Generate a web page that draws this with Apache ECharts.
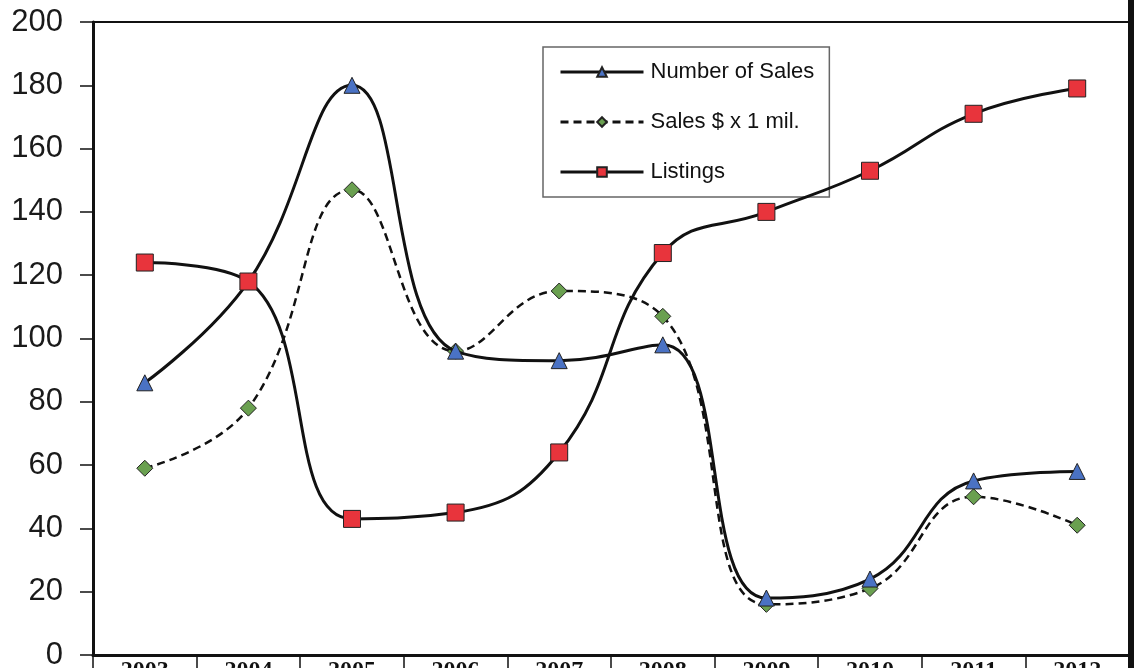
<!DOCTYPE html>
<html>
<head>
<meta charset="utf-8">
<script src="https://cdn.jsdelivr.net/npm/echarts@6/dist/echarts.min.js"></script>
<style>html,body{margin:0;padding:0;background:#fff}#c{width:1134px;height:668px}</style>
</head>
<body>
<div id="c"></div>
<script>
const years = ['2003','2004','2005','2006','2007','2008','2009','2010','2011','2012'];
const numberOfSales = [86, 118, 180, 96, 93, 98, 18, 24, 55, 58];
const salesMillions = [59, 78, 147, 96, 115, 107, 16, 21, 50, 41];
const listings = [124, 118, 43, 45, 64, 127, 140, 153, 171, 179];

const chart = echarts.init(document.getElementById('c'));
chart.setOption({
  backgroundColor: '#fff',
  animation: false,
  grid: { left: 93, right: 5, top: 22, bottom: 13, outerBoundsMode: 'none', containLabel: false, show: true, borderColor: '#111', borderWidth: 2, backgroundColor: 'transparent' },
  graphic: [
    { type: 'rect', shape: { x: 1128, y: 0, width: 6, height: 668 }, style: { fill: '#111' }, z: 100 }
  ],
  legend: {
    orient: 'vertical',
    left: 543, top: 47,
    padding: [14, 15, 14, 16],
    itemGap: 28,
    itemWidth: 83, itemHeight: 12,
    borderColor: '#666', borderWidth: 1.5,
    backgroundColor: '#fff',
    lineStyle: { width: 3 },
    textStyle: { fontFamily: 'Liberation Sans, Arial, sans-serif', fontSize: 22, color: '#111', padding: [0, 0, 0, 2] },
    data: ['Number of Sales', 'Sales $ x 1 mil.', 'Listings']
  },
  xAxis: {
    type: 'category',
    data: years,
    boundaryGap: true,
    axisLine: { lineStyle: { color: '#111', width: 3 } },
    axisTick: { show: true, alignWithLabel: false, length: 16, lineStyle: { color: '#111', width: 1.5 } },
    axisLabel: { margin: 4, fontFamily: 'Liberation Serif, Times New Roman, serif', fontWeight: 'bold', fontSize: 24, color: '#111' }
  },
  yAxis: {
    type: 'value',
    min: 0, max: 200, interval: 20,
    splitLine: { show: false },
    axisLine: { show: true, lineStyle: { color: '#111', width: 3 } },
    axisTick: { show: true, length: 13, lineStyle: { color: '#111', width: 1.5 } },
    axisLabel: { margin: 30, fontFamily: 'Liberation Sans, Arial, sans-serif', fontSize: 31, color: '#1a1a1a' }
  },
  series: [
    {
      name: 'Number of Sales', type: 'line', data: numberOfSales, smooth: 0.45,
      symbol: 'triangle', symbolSize: 16,
      lineStyle: { color: '#111', width: 3 },
      itemStyle: { color: '#4a72c4', borderColor: '#222', borderWidth: 1 },
      z: 3
    },
    {
      name: 'Sales $ x 1 mil.', type: 'line', data: salesMillions, smooth: 0.45,
      symbol: 'diamond', symbolSize: 16,
      lineStyle: { color: '#111', width: 2.5, type: [8, 5] },
      itemStyle: { color: '#6aa050', borderColor: '#222', borderWidth: 1 },
      z: 2
    },
    {
      name: 'Listings', type: 'line', data: listings, smooth: 0.45,
      symbol: 'rect', symbolSize: 17,
      lineStyle: { color: '#111', width: 3 },
      itemStyle: { color: '#e8343c', borderColor: '#222', borderWidth: 1 },
      z: 4
    }
  ]
});
</script>
</body>
</html>
